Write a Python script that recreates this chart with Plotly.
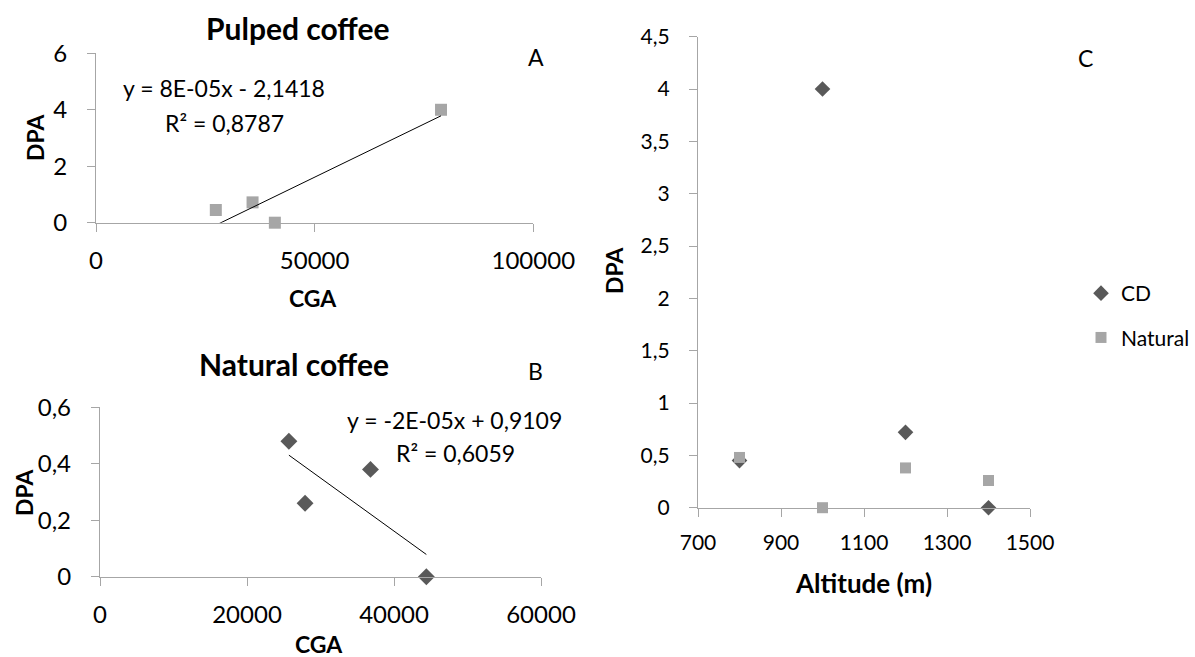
import numpy as np
import plotly.graph_objects as go

# ---------------- data ----------------
pulped_cga = [27400, 35800, 40900, 78900]
pulped_dpa = [0.45, 0.72, 0.0, 4.0]

natural_cga = [25700, 27900, 36800, 44400]
natural_dpa = [0.48, 0.26, 0.38, 0.0]

altitude = [800, 1000, 1200, 1400]
cd_dpa = [0.45, 4.0, 0.72, 0.0]
natural_alt_dpa = [0.48, 0.0, 0.38, 0.26]

a_xticks = [0, 50000, 100000]
a_xticktext = ["0", "50000", "100000"]
a_yticks = [0, 2, 4, 6]
a_yticktext = ["0", "2", "4", "6"]

b_xticks = [0, 20000, 40000, 60000]
b_xticktext = ["0", "20000", "40000", "60000"]
b_yticks = [0, 0.2, 0.4, 0.6]
b_yticktext = ["0", "0,2", "0,4", "0,6"]

c_xticks = [700, 900, 1100, 1300, 1500]
c_xticktext = ["700", "900", "1100", "1300", "1500"]
c_yticks = [0, 0.5, 1, 1.5, 2, 2.5, 3, 3.5, 4, 4.5]
c_yticktext = ["0", "0,5", "1", "1,5", "2", "2,5", "3", "3,5", "4", "4,5"]

eq_a = ["y = 8E-05x - 2,1418", "R² = 0,8787"]
eq_b = ["y = -2E-05x + 0,9109", "R² = 0,6059"]

# ---------------- layout helpers ----------------
W, H = 1195, 657
FONT = "Lato"
AXC = "#a6a6a6"
DARK = "#595959"
LIGHT = "#a6a6a6"


def px(x):
    return x / W


def py(y):
    return 1 - y / H


def trend(xs, ys):
    k, b = np.polyfit(xs, ys, 1)
    x0, x1 = min(xs), max(xs)
    return [x0, x1], [k * x0 + b, k * x1 + b]


fig = go.Figure()

# Panel A
fig.add_trace(go.Scatter(x=pulped_cga, y=pulped_dpa, mode="markers",
                         marker=dict(symbol="square", size=12, color=LIGHT),
                         cliponaxis=False, showlegend=False, xaxis="x", yaxis="y"))
tx, ty = trend(pulped_cga, pulped_dpa)
fig.add_trace(go.Scatter(x=tx, y=ty, mode="lines", line=dict(color="black", width=1),
                         showlegend=False, xaxis="x", yaxis="y"))

# Panel B
fig.add_trace(go.Scatter(x=natural_cga, y=natural_dpa, mode="markers",
                         marker=dict(symbol="diamond", size=13, color=DARK),
                         cliponaxis=False, showlegend=False, xaxis="x2", yaxis="y2"))
tx, ty = trend(natural_cga, natural_dpa)
fig.add_trace(go.Scatter(x=tx, y=ty, mode="lines", line=dict(color="black", width=1),
                         showlegend=False, xaxis="x2", yaxis="y2"))

# Panel C
fig.add_trace(go.Scatter(x=altitude, y=cd_dpa, mode="markers", name="CD",
                         marker=dict(symbol="diamond", size=12, color=DARK),
                         cliponaxis=False, legendgroup="cd", xaxis="x3", yaxis="y3"))
fig.add_trace(go.Scatter(x=altitude, y=natural_alt_dpa, mode="markers", name="Natural",
                         marker=dict(symbol="square", size=11, color=LIGHT),
                         cliponaxis=False, legendgroup="nat", xaxis="x3", yaxis="y3"))


def axis_style(size):
    return dict(showline=True, linecolor=AXC, linewidth=1.3, ticks="outside",
                ticklen=8, tickcolor=AXC, tickwidth=1.3, showgrid=False,
                zeroline=False, automargin=False,
                tickfont=dict(family=FONT, size=size, color="black"),
                fixedrange=True)


fig.update_layout(
    template="none",
    width=W, height=H, margin=dict(l=0, r=0, t=0, b=0, pad=0), autosize=False,
    paper_bgcolor="white", plot_bgcolor="white",
    font=dict(family=FONT, color="black"),
    xaxis=dict(domain=[px(96), px(533.3)], range=[0, 100000], tickvals=a_xticks,
               ticktext=a_xticktext, anchor="y", ticklabelstandoff=8, **axis_style(24)),
    yaxis=dict(domain=[py(222.7), py(53.3)], range=[0, 6], tickvals=a_yticks,
               ticktext=a_yticktext, anchor="x", ticklabelstandoff=15, **axis_style(24)),
    xaxis2=dict(domain=[px(100), px(541)], range=[0, 60000], tickvals=b_xticks,
                ticktext=b_xticktext, anchor="y2", ticklabelstandoff=8, **axis_style(24)),
    yaxis2=dict(domain=[py(576.7), py(407.3)], range=[0, 0.6], tickvals=b_yticks,
                ticktext=b_yticktext, anchor="x2", ticklabelstandoff=15, **axis_style(24)),
    xaxis3=dict(domain=[px(698), px(1030)], range=[700, 1500], tickvals=c_xticks,
                ticktext=c_xticktext, anchor="y3", ticklabelstandoff=8, **axis_style(21)),
    yaxis3=dict(domain=[py(507.7), py(36.7)], range=[0, 4.5], tickvals=c_yticks,
                ticktext=c_yticktext, anchor="x3", ticklabelstandoff=15, **axis_style(21)),
    showlegend=True,
    legend=dict(x=1, y=py(273), xanchor="right", yanchor="top",
                font=dict(family=FONT, size=21, color="black"),
                tracegroupgap=14, bgcolor="rgba(0,0,0,0)", borderwidth=0,
                itemclick=False),
)


def note(text, x, y, size=23, bold=False, angle=0):
    t = f"<b>{text}</b>" if bold else text
    fig.add_annotation(text=t, x=px(x), y=py(y), xref="paper", yref="paper",
                       xanchor="center", yanchor="middle", showarrow=False,
                       textangle=angle, font=dict(family=FONT, size=size, color="black"))


# Panel A texts
note("Pulped coffee", 297, 28, size=30, bold=True)
note("A", 536, 57)
note(eq_a[0], 224, 88)
note(eq_a[1], 224, 123)
note("DPA", 35, 137, size=23, bold=True, angle=-90)
note("CGA", 313, 298, size=23, bold=True)

# Panel B texts
note("Natural coffee", 294, 364, size=30, bold=True)
note("B", 535, 371)
note(eq_b[0], 454, 420)
note(eq_b[1], 455, 453)
note("DPA", 24, 492, size=23, bold=True, angle=-90)
note("CGA", 319, 644, size=23, bold=True)

# Panel C texts
note("C", 1085, 58)
note("DPA", 614, 270, size=23, bold=True, angle=-90)
note("Altitude (m)", 863, 583, size=26, bold=True)

fig.write_html("out.html", config={"displayModeBar": False},
               post_script="document.body.style.margin='0px';document.body.style.overflow='hidden';")
